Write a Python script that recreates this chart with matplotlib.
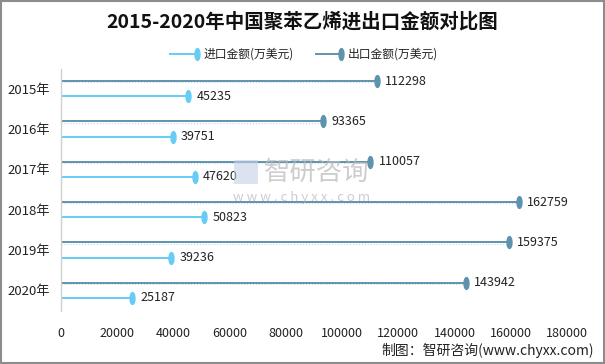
import matplotlib
matplotlib.use("Agg")
import matplotlib.pyplot as plt
import numpy as np
from matplotlib.path import Path
from matplotlib.patches import Rectangle
from matplotlib.lines import Line2D

plt.rcParams['font.family'] = ['Noto Sans CJK SC', 'DejaVu Sans']

years = ["2015年", "2016年", "2017年", "2018年", "2019年", "2020年"]
imports = [45235, 39751, 47620, 50823, 39236, 25187]
exports = [112298, 93365, 110057, 162759, 159375, 143942]
xticks = [0, 20000, 40000, 60000, 80000, 100000, 120000, 140000, 160000, 180000]

c_imp = "#66CCF5"
c_exp = "#5E93AD"

t = np.linspace(0, 2*np.pi, 40)
ell = Path(np.column_stack([0.42*np.cos(t), np.sin(t)]), closed=True)

fig = plt.figure(figsize=(6.05, 3.64), dpi=100)
fig.patch.set_facecolor("white")
ax = fig.add_axes([61/605, 1-310.5/364, (567-61)/605, (310.5-68.5)/364])

y = np.arange(len(years))
off = 0.19
for i in range(len(years)):
    ax.plot([0, exports[i]], [y[i]-off+0.035]*2, color="#C9D6DD", lw=0.8, ls=":", zorder=1)
    ax.plot([0, exports[i]], [y[i]-off]*2, color=c_exp, lw=1.4, zorder=2)
    ax.plot([exports[i]], [y[i]-off], marker=ell, ms=8.5, color=c_exp, mec=c_exp, zorder=3)
    ax.annotate(f"{exports[i]}", (exports[i], y[i]-off), xytext=(6, 0), textcoords="offset points",
                va="center", ha="left", fontsize=9, color="#222222")
    ax.plot([0, imports[i]], [y[i]+off]*2, color=c_imp, lw=1.4, zorder=2)
    ax.plot([imports[i]], [y[i]+off], marker=ell, ms=8.5, color=c_imp, mec=c_imp, zorder=3)
    ax.annotate(f"{imports[i]}", (imports[i], y[i]+off), xytext=(6, 0), textcoords="offset points",
                va="center", ha="left", fontsize=9, color="#222222")

ax.set_xlim(0, 180000)
ax.set_ylim(len(years)-0.5, -0.5)
ax.set_yticks(y)
ax.set_yticklabels(years, fontsize=9.5, color="#222222")
ax.set_xticks(xticks)
ax.set_xticklabels([str(v) for v in xticks], fontsize=9, color="#222222")
ax.tick_params(axis="both", length=0)
ax.tick_params(axis="x", pad=12)
ax.tick_params(axis="y", pad=8)
for s in ["top", "right", "bottom"]:
    ax.spines[s].set_visible(False)
ax.spines["left"].set_color("#D0D0D0")
ax.spines["left"].set_linewidth(1)

# title
fig.text(0.5, 1-22/364, "2015-2020年中国聚苯乙烯进出口金额对比图", ha="center", va="center",
         fontsize=14, fontweight="bold", color="#111111")

# legend (manual)
ly = 1-54/364
for x0, x1, col, lab in [(170, 197, c_imp, "进口金额(万美元)"), (316, 341, c_exp, "出口金额(万美元)")]:
    fig.add_artist(Line2D([x0/605, x1/605], [ly, ly], color=col, lw=1.4, transform=fig.transFigure))
    fig.add_artist(Line2D([x1/605], [ly], marker=ell, ms=8.5, color=col, mec=col, transform=fig.transFigure))
    fig.text((x1+7)/605, ly, lab, ha="left", va="center", fontsize=8.5, color="#222222")

# watermark
fig.text(264/605, 1-172/364, "智研咨询", ha="left", va="center", fontsize=19, color="#B8B8B8", alpha=0.7)
fig.text(233/605, 1-197/364, "w w w . c h y x x . c o m", ha="left", va="center", fontsize=9.5,
         color="#B8B8B8", alpha=0.7)
fig.add_artist(Rectangle((234/605, 1-184/364), 24/605, 24/364, transform=fig.transFigure,
                         facecolor="#C5D0E6", edgecolor="none", alpha=0.6))

# footer
fig.text(594/605, 1-350/364, "制图：智研咨询(www.chyxx.com)", ha="right", va="center",
         fontsize=10, color="#222222")

# border
fig.add_artist(Rectangle((0.001, 0.002), 0.997, 0.995, transform=fig.transFigure,
                         fill=False, edgecolor="#8C8C8C", lw=1.5))

fig.savefig("out.png", dpi=100)
